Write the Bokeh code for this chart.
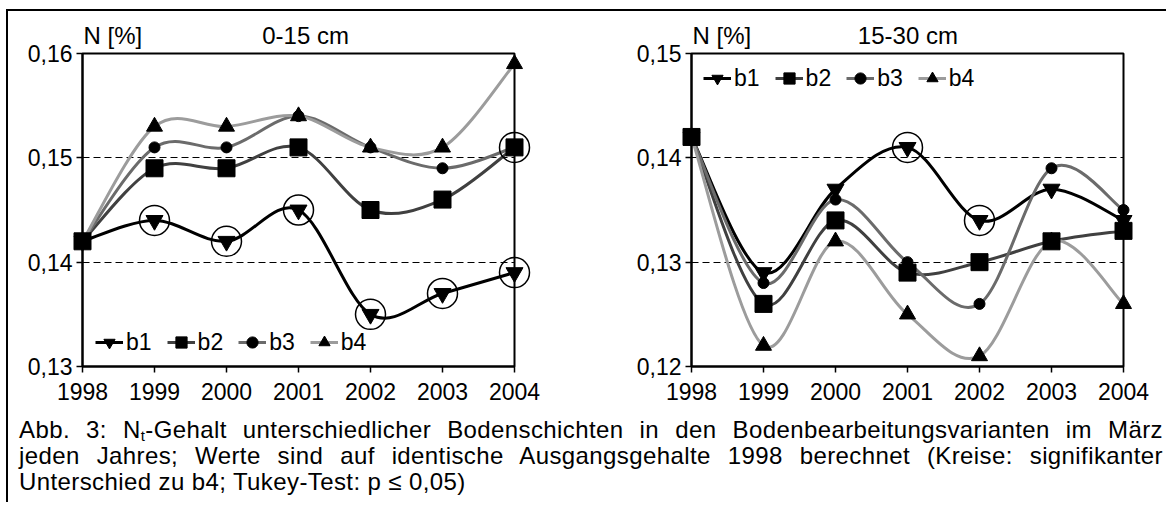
from bokeh.plotting import figure
from bokeh.models import (FixedTicker, CustomJSTickFormatter, Legend, LegendItem,
                          Title, Div, Range1d, ColumnDataSource)
from bokeh.layouts import row, column
from bokeh.embed import file_html
from bokeh.resources import INLINE

# ---------------- data ----------------
years = [1998, 1999, 2000, 2001, 2002, 2003, 2004]

top_b1 = [0.142, 0.144, 0.142, 0.145, 0.135, 0.137, 0.139]
top_b2 = [0.142, 0.149, 0.149, 0.151, 0.145, 0.146, 0.151]
top_b3 = [0.142, 0.151, 0.151, 0.154, 0.151, 0.149, 0.151]
top_b4 = [0.142, 0.153, 0.153, 0.154, 0.151, 0.151, 0.159]
top_sig_years = [1999, 2000, 2001, 2002, 2003, 2004, 2004]
top_sig_values = [0.144, 0.142, 0.145, 0.135, 0.137, 0.139, 0.151]

sub_b1 = [0.142, 0.129, 0.137, 0.141, 0.134, 0.137, 0.134]
sub_b2 = [0.142, 0.126, 0.134, 0.129, 0.130, 0.132, 0.133]
sub_b3 = [0.142, 0.128, 0.136, 0.130, 0.126, 0.139, 0.135]
sub_b4 = [0.142, 0.122, 0.132, 0.125, 0.121, 0.132, 0.126]
sub_sig_years = [2001, 2002]
sub_sig_values = [0.141, 0.134]

series_names = ["b1", "b2", "b3", "b4"]
top_ticks = [0.13, 0.14, 0.15, 0.16]
sub_ticks = [0.12, 0.13, 0.14, 0.15]
unit_label = "N [%]"
top_title = "0-15 cm"
sub_title = "15-30 cm"

# ---------------- styles ----------------
COLORS = ["#000000", "#404040", "#6b6b6b", "#9c9c9c"]
MARKERS = ["inverted_triangle", "square", "circle", "triangle"]
SIZES = [17, 17, 11, 16]
FONT = "Liberation Sans"
NBSP = "\u00a0"


def smooth_segments(xs, ys):
    """Bezier control points (Excel-like smoothed line) from the data points."""
    n = len(xs)
    d = dict(x0=[], y0=[], x1=[], y1=[], cx0=[], cy0=[], cx1=[], cy1=[])
    for i in range(n - 1):
        ip = i - 1 if i > 0 else i
        inn = i + 2 if i + 2 < n else i + 1
        d["x0"].append(xs[i]); d["y0"].append(ys[i])
        d["x1"].append(xs[i + 1]); d["y1"].append(ys[i + 1])
        d["cx0"].append(xs[i] + (xs[i + 1] - xs[ip]) / 6.0)
        d["cy0"].append(ys[i] + (ys[i + 1] - ys[ip]) / 6.0)
        d["cx1"].append(xs[i + 1] - (xs[inn] - xs[i]) / 6.0)
        d["cy1"].append(ys[i + 1] - (ys[inn] - ys[i]) / 6.0)
    return d


def make_fig(width, mbl, mbr, ticks, data, sig_x, sig_y, title, gap, leg_loc):
    p = figure(width=width, height=401, x_range=Range1d(years[0], years[-1]),
               y_range=Range1d(ticks[0], ticks[-1]), output_backend="svg",
               toolbar_location=None, min_border_left=mbl, min_border_right=mbr,
               min_border_top=42, min_border_bottom=46,
               background_fill_color="white", border_fill_color="white")
    p.outline_line_color = "black"
    p.outline_line_width = 2

    p.xaxis.ticker = FixedTicker(ticks=years)
    p.yaxis.ticker = FixedTicker(ticks=ticks)
    p.yaxis.formatter = CustomJSTickFormatter(code="return tick.toFixed(2).replace('.', ',');")
    for ax in (p.xaxis, p.yaxis):
        ax.axis_line_width = 2
        ax.axis_line_color = "black"
        ax.major_tick_line_width = 1.5
        ax.major_tick_line_color = "black"
        ax.major_tick_out = 6
        ax.major_tick_in = 0
        ax.minor_tick_line_color = None
        ax.major_label_text_font = FONT
        ax.major_label_text_font_size = "23px"
        ax.major_label_text_color = "black"
    p.yaxis.major_label_standoff = 4
    p.xaxis.major_label_standoff = 10

    p.xgrid.visible = False
    p.ygrid.ticker = FixedTicker(ticks=ticks)
    p.ygrid.grid_line_color = "black"
    p.ygrid.grid_line_dash = "7 4"
    p.ygrid.grid_line_width = 1

    items = []
    for name, vals, col, mk, sz in zip(series_names, data, COLORS, MARKERS, SIZES):
        src = ColumnDataSource(smooth_segments(years, vals))
        p.bezier(x0="x0", y0="y0", x1="x1", y1="y1", cx0="cx0", cy0="cy0",
                 cx1="cx1", cy1="cy1", source=src, line_color=col, line_width=3)
        # one-point line: draws nothing in the plot, only provides the legend stroke
        leg_line = p.line(x=years[:1], y=vals[:1], line_color=col, line_width=3)
        sc = p.scatter(years, vals, marker=mk, size=sz, fill_color="black",
                       line_color="black", level="overlay")
        items.append(LegendItem(label=name, renderers=[leg_line, sc]))

    p.scatter(sig_x, sig_y, marker="circle", size=30, fill_color=None,
              line_color="black", line_width=1.5, level="overlay")

    leg = Legend(items=items, orientation="horizontal", location=leg_loc,
                 padding=0, margin=0, spacing=15, label_standoff=3,
                 glyph_width=28, glyph_height=36, label_height=36,
                 label_text_font=FONT, label_text_font_size="23px",
                 label_text_color="black",
                 border_line_alpha=0, background_fill_alpha=0)
    p.add_layout(leg)

    head = Title(text=unit_label + NBSP * gap + title, align="left", offset=1,
                 standoff=9, text_font=FONT, text_font_size="24px",
                 text_font_style="normal", text_color="black")
    p.add_layout(head, "above")
    return p


p1 = make_fig(592, 74, 86, top_ticks, [top_b1, top_b2, top_b3, top_b4],
              top_sig_years, top_sig_values, top_title, 18, (13, 6))
p2 = make_fig(565, 91, 42, sub_ticks, [sub_b1, sub_b2, sub_b3, sub_b4],
              sub_sig_years, sub_sig_values, sub_title, 16, (12, 270))

line1 = ("Abb. 3: N<span style='font-size:15px;vertical-align:-3px;line-height:0'>t</span>"
         "-Gehalt unterschiedlicher Bodenschichten in den Bodenbearbeitungsvarianten im März")
line2 = "jeden Jahres; Werte sind auf identische Ausgangsgehalte 1998 berechnet (Kreise: signifikanter"
line3 = "Unterschied zu b4; Tukey-Test: p ≤ 0,05)"
blk = "width:1144px;margin-left:6px;height:26px;white-space:nowrap;overflow:visible;"
jst = blk + "text-align:justify;text-align-last:justify;"
caption = Div(
    text=(f"<div style='{jst}'>{line1}</div>"
          f"<div style='{jst}'>{line2}</div>"
          f"<div style='{blk}'>{line3}</div>"),
    width=1152, height=80,
    styles={"font-family": FONT, "font-size": "24px", "line-height": "26px",
            "letter-spacing": "0.4px", "color": "black"})

layout = column(row(p1, p2), caption,
                styles={"border-top": "2px solid black", "border-left": "2px solid black",
                        "background-color": "white", "margin-top": "9px",
                        "margin-left": "6px"})

open("out.html", "w").write(file_html(layout, INLINE))
